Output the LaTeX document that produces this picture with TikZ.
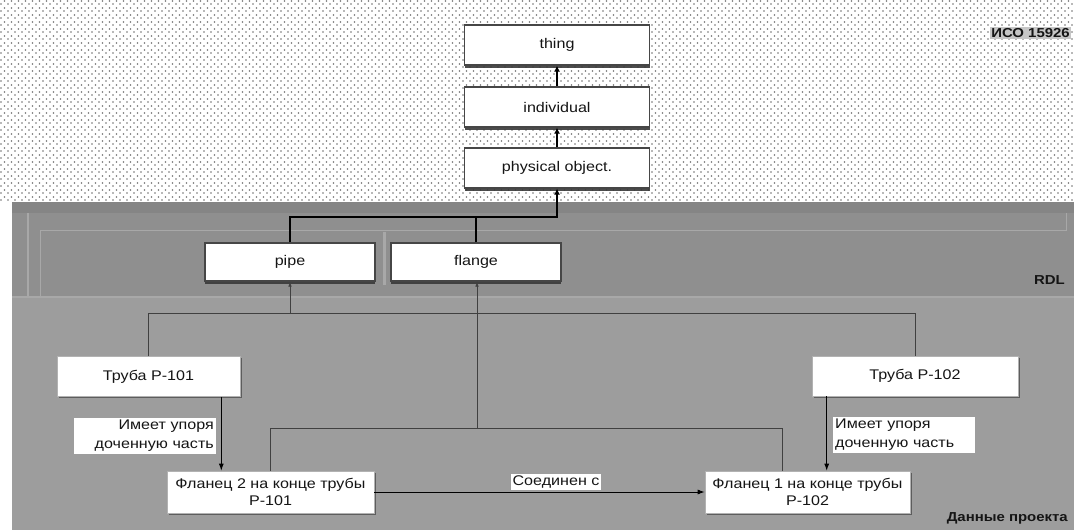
\documentclass[tikz,border=0pt]{standalone}
\usepackage{fontspec}
\setmainfont{Liberation Sans}[FakeStretch=1.15]
\usetikzlibrary{arrows.meta,shadows,patterns}
\pgfdeclarepatternformonly{sparsedots}{\pgfpoint{-1pt}{-1pt}}{\pgfpoint{7pt}{7pt}}{\pgfpoint{7pt}{7pt}}{%
  \pgfpathcircle{\pgfpoint{1pt}{1pt}}{0.8pt}%
  \pgfpathcircle{\pgfpoint{4.5pt}{4pt}}{0.8pt}%
  \pgfusepath{fill}}
\definecolor{rdlgray}{HTML}{8F8F8F}
\definecolor{rdlband}{HTML}{858585}
\definecolor{projgray}{HTML}{9D9D9D}
\definecolor{framegray}{HTML}{A8A8A8}
\definecolor{txt}{HTML}{151515}
\tikzset{
  topbox/.style={draw=gray!55!black, line width=1.2pt, fill=white,
    minimum width=185pt, minimum height=40pt, inner sep=1pt,
    drop shadow={shadow xshift=0pt, shadow yshift=-3pt, fill=gray!45!black, opacity=0.9},
    font=\fontsize{14}{15}\selectfont, text=txt},
  midbox/.style={topbox, minimum width=170pt, minimum height=38pt},
  lowbox/.style={draw=gray!60, line width=0.6pt, fill=white, inner sep=1pt,
    minimum height=40pt, align=center,
    drop shadow={shadow xshift=1.5pt, shadow yshift=-1.5pt, fill=gray!40!black, opacity=0.6},
    font=\fontsize{14}{17}\selectfont, text=txt},
  elabel/.style={fill=white, inner sep=2pt, font=\fontsize{14}{19}\selectfont, text=txt},
  regionlabel/.style={font=\bfseries\fontsize{13}{14}\selectfont, text=txt, inner sep=1pt},
  barr/.style={draw=black, line width=1.8pt, -{Latex[length=6pt,width=6pt]}},
  bline/.style={draw=black, line width=1.8pt},
  arr/.style={draw=black, line width=0.9pt, -{Latex[length=7pt,width=5pt]}},
  gline/.style={draw=black!75, line width=0.6pt},
  garr/.style={gline, -{Latex[length=5pt,width=3.5pt]}},
}
\begin{document}
\begin{tikzpicture}[x=1pt,y=-1pt]
\useasboundingbox (0,0) rectangle (1074,530);
% backgrounds
\fill[white] (0,0) rectangle (1074,530);
\fill[pattern=sparsedots, pattern color=black!55] (0,0) rectangle (1074,202);
\fill[rdlgray] (12,202) rectangle (1074,297);
\fill[projgray] (12,297) rectangle (1074,530);
\fill[rdlband] (12,202) rectangle (1074,213);
\draw[framegray, line width=2pt] (28,213) -- (28,297);
\draw[framegray, line width=0.8pt] (40,297) -- (40,230) -- (1066,230) -- (1066,213);
\draw[framegray, line width=1.5pt] (12,297) -- (1074,297);
\draw[framegray, line width=3pt] (384,232) -- (384,285);

% region labels
\node[regionlabel, fill=gray!45, anchor=east] (iso) at (1071,33) {ИСО 15926};
\node[regionlabel, anchor=east] (rdl) at (1066,280) {RDL};
\node[regionlabel, anchor=east] (proj) at (1069,518) {Данные проекта};

% top hierarchy
\node[topbox] (thing) at (557,45) {thing};
\node[topbox] (ind) at (557,107) {individual};
\node[topbox] (phys) at (557,168) {physical object.};
\node[midbox] (pipe) at (290,262) {pipe};
\node[midbox] (flange) at (476,262) {flange};

% project data
\node[lowbox, minimum width=183pt] (t101) at (148.5,376.5) {Труба P-101};
\node[lowbox, minimum width=206pt] (t102) at (915,376) {Труба P-102};
\node[lowbox, minimum width=207pt, minimum height=42pt] (f2) at (270.5,492) {Фланец 2 на конце трубы\\P-101};
\node[lowbox, minimum width=205pt, minimum height=42pt] (f1) at (807.5,492) {Фланец 1 на конце трубы\\P-102};

% junctions
\coordinate (j1) at (557,217);
\coordinate (h1) at (290,313);
\coordinate (h2) at (477,428);
\coordinate (f1in) at ([xshift=-25.5pt]f1.north);
\coordinate (a1) at ([xshift=-19pt]t101.south east);
\coordinate (a2) at ([xshift=15pt]t102.south west);

% classification connectors (gray)
\draw[gline] (t101.north) |- (h1);
\draw[gline] (t102.north) |- (h1);
\draw[garr] (h1) -- (pipe.south);
\draw[gline] (f2.north) |- (h2);
\draw[gline] (f1in) |- (h2);
\draw[garr] (h2) -- (flange.south -| h2);

% specialization (black)
\draw[barr] (ind.north) -- (thing.south);
\draw[barr] (phys.north) -- (ind.south);
\draw[barr] (pipe.north) |- (j1) -- (phys.south);
\draw[bline] (flange.north) -- (flange.north |- j1);

% relations
\draw[arr] (a1) -- (a1 |- f2.north);
\node[elabel, anchor=east, text width=138pt, align=right] (l1) at (216,436) {Имеет упоря\\доченную часть};
\draw[arr] (a2) -- (a2 |- f1.north);
\node[elabel, anchor=west, text width=138pt, align=left] (l2) at (833,435) {Имеет упоря\\доченную часть};
\draw[arr] (f2.east) -- (f1.west) node[elabel, pos=0.55, above=2pt, inner sep=1.5pt] (l3) {Соединен с};
\end{tikzpicture}
\end{document}
